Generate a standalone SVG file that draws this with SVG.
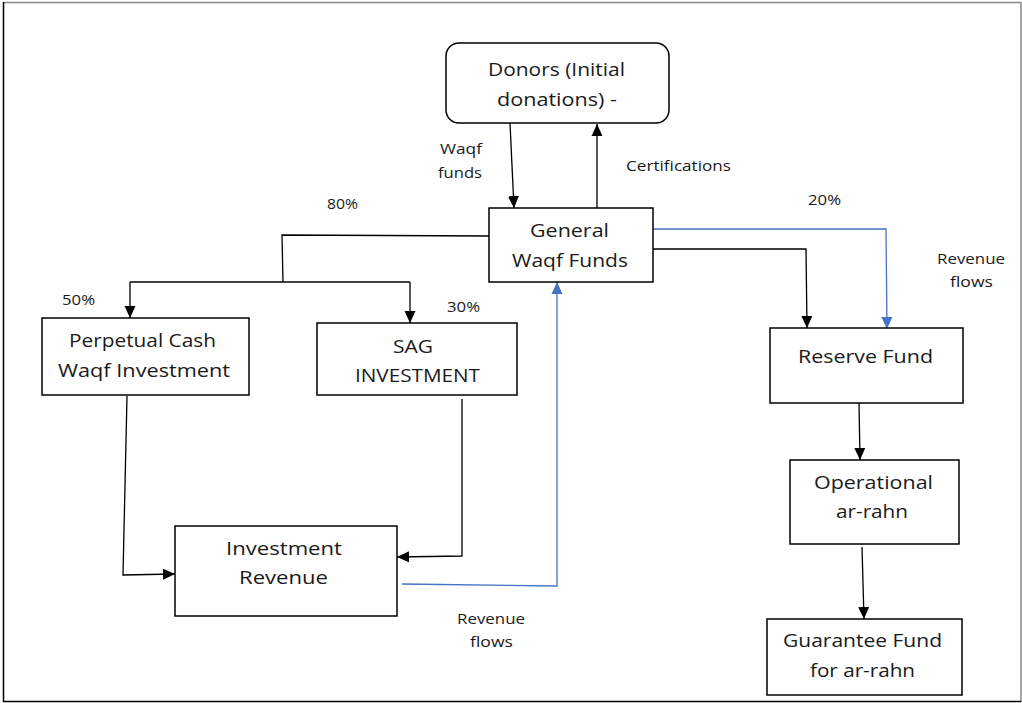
<svg xmlns="http://www.w3.org/2000/svg" width="1022" height="703" viewBox="0 0 1022 703">
<style>
.box{fill:#fff;stroke:#000;stroke-width:1.5}
.lbl{font-family:"Open Sans",Lato,"Liberation Sans",sans-serif;font-size:19px;fill:#1a1a1a;text-anchor:middle}
.sm{font-family:"Open Sans",Lato,"Liberation Sans",sans-serif;font-size:14px;fill:#1a1a1a;text-anchor:middle}
.k{fill:none;stroke:#000;stroke-width:1.3}
.b{fill:none;stroke:#4472C4;stroke-width:1.3}
</style>
<defs>
<marker id="ak" markerUnits="userSpaceOnUse" markerWidth="12" markerHeight="12" viewBox="0 0 12 12" refX="12" refY="6" orient="auto"><path d="M0,0.5 L12,6 L0,11.5 z" fill="#000"/></marker>
<marker id="ab" markerUnits="userSpaceOnUse" markerWidth="12" markerHeight="12" viewBox="0 0 12 12" refX="12" refY="6" orient="auto"><path d="M0,0.5 L12,6 L0,11.5 z" fill="#4472C4"/></marker>
</defs>
<rect width="1022" height="703" fill="#fff"/>
<line x1="3" y1="2.5" x2="1021" y2="2.5" stroke="#888" stroke-width="1.5"/>
<line x1="1021" y1="2" x2="1021" y2="702" stroke="#888" stroke-width="1.5"/>
<line x1="3.5" y1="2" x2="3.5" y2="702" stroke="#000" stroke-width="1.5"/>
<line x1="3" y1="701.5" x2="1021" y2="701.5" stroke="#000" stroke-width="1.5"/>

<g id="connectors">
<path class="k" d="M510,123 L514,208" marker-end="url(#ak)"/>
<path class="k" d="M597,208 L597,124" marker-end="url(#ak)"/>
<path class="k" d="M489,236 L282,235 L283,282"/>
<path class="k" d="M130,282 L410,282"/>
<path class="k" d="M130,282 L130,318" marker-end="url(#ak)"/>
<path class="k" d="M410,282 L410,323" marker-end="url(#ak)"/>
<path class="b" d="M653,229 L886,229 L887,329" marker-end="url(#ab)"/>
<path class="k" d="M653,249 L806,249 L807,328" marker-end="url(#ak)"/>
<path class="k" d="M859,403 L860,460" marker-end="url(#ak)"/>
<path class="k" d="M862,547 L864,619" marker-end="url(#ak)"/>
<path class="k" d="M127,396 L123,575 L175,574" marker-end="url(#ak)"/>
<path class="k" d="M462,399 L462,556 L397,557" marker-end="url(#ak)"/>
<path class="b" d="M402,584 L557,586 L557,282" marker-end="url(#ab)"/>
</g>

<g id="donors">
<rect class="box" x="446" y="43" width="223" height="80" rx="13"/>
<text class="lbl" x="556.5" y="76" textLength="137" lengthAdjust="spacingAndGlyphs">Donors (Initial</text>
<text class="lbl" x="557" y="106" textLength="120" lengthAdjust="spacingAndGlyphs">donations) -</text>
</g>
<g id="general">
<rect class="box" x="489" y="208" width="164" height="74"/>
<text class="lbl" x="569.5" y="237" textLength="79" lengthAdjust="spacingAndGlyphs">General</text>
<text class="lbl" x="570" y="267" textLength="116" lengthAdjust="spacingAndGlyphs">Waqf Funds</text>
</g>
<g id="perpetual">
<rect class="box" x="42" y="318" width="207" height="77"/>
<text class="lbl" x="142.5" y="347" textLength="147" lengthAdjust="spacingAndGlyphs">Perpetual Cash</text>
<text class="lbl" x="144" y="377" textLength="172" lengthAdjust="spacingAndGlyphs">Waqf Investment</text>
</g>
<g id="sag">
<rect class="box" x="317" y="323" width="200" height="72"/>
<text class="lbl" x="413" y="353" textLength="40" lengthAdjust="spacingAndGlyphs">SAG</text>
<text class="lbl" x="417.5" y="382" textLength="125" lengthAdjust="spacingAndGlyphs">INVESTMENT</text>
</g>
<g id="reserve">
<rect class="box" x="770" y="328" width="193" height="75"/>
<text class="lbl" x="865.5" y="363" textLength="135" lengthAdjust="spacingAndGlyphs">Reserve Fund</text>
</g>
<g id="operational">
<rect class="box" x="790" y="460" width="169" height="84"/>
<text class="lbl" x="873.5" y="489" textLength="119" lengthAdjust="spacingAndGlyphs">Operational</text>
<text class="lbl" x="872" y="518" textLength="72" lengthAdjust="spacingAndGlyphs">ar-rahn</text>
</g>
<g id="guarantee">
<rect class="box" x="767" y="619" width="195" height="76"/>
<text class="lbl" x="862.5" y="647" textLength="159" lengthAdjust="spacingAndGlyphs">Guarantee Fund</text>
<text class="lbl" x="862.5" y="677" textLength="105" lengthAdjust="spacingAndGlyphs">for ar-rahn</text>
</g>
<g id="revenue">
<rect class="box" x="175" y="526" width="222" height="90"/>
<text class="lbl" x="284" y="555" textLength="116" lengthAdjust="spacingAndGlyphs">Investment</text>
<text class="lbl" x="283.5" y="584" textLength="89" lengthAdjust="spacingAndGlyphs">Revenue</text>
</g>

<g id="labels">
<text class="sm" x="461" y="154" textLength="42" lengthAdjust="spacingAndGlyphs">Waqf</text>
<text class="sm" x="460" y="178" textLength="44" lengthAdjust="spacingAndGlyphs">funds</text>
<text class="sm" x="678.5" y="171" textLength="105" lengthAdjust="spacingAndGlyphs">Certifications</text>
<text class="sm" x="342.5" y="209" textLength="31" lengthAdjust="spacingAndGlyphs">80%</text>
<text class="sm" x="78.5" y="305" textLength="33" lengthAdjust="spacingAndGlyphs">50%</text>
<text class="sm" x="463.5" y="312" textLength="33" lengthAdjust="spacingAndGlyphs">30%</text>
<text class="sm" x="824.5" y="205" textLength="33" lengthAdjust="spacingAndGlyphs">20%</text>
<text class="sm" x="971" y="264" textLength="68" lengthAdjust="spacingAndGlyphs">Revenue</text>
<text class="sm" x="971.5" y="287" textLength="43" lengthAdjust="spacingAndGlyphs">flows</text>
<text class="sm" x="491" y="624" textLength="68" lengthAdjust="spacingAndGlyphs">Revenue</text>
<text class="sm" x="491.5" y="647" textLength="43" lengthAdjust="spacingAndGlyphs">flows</text>
</g>
</svg>
